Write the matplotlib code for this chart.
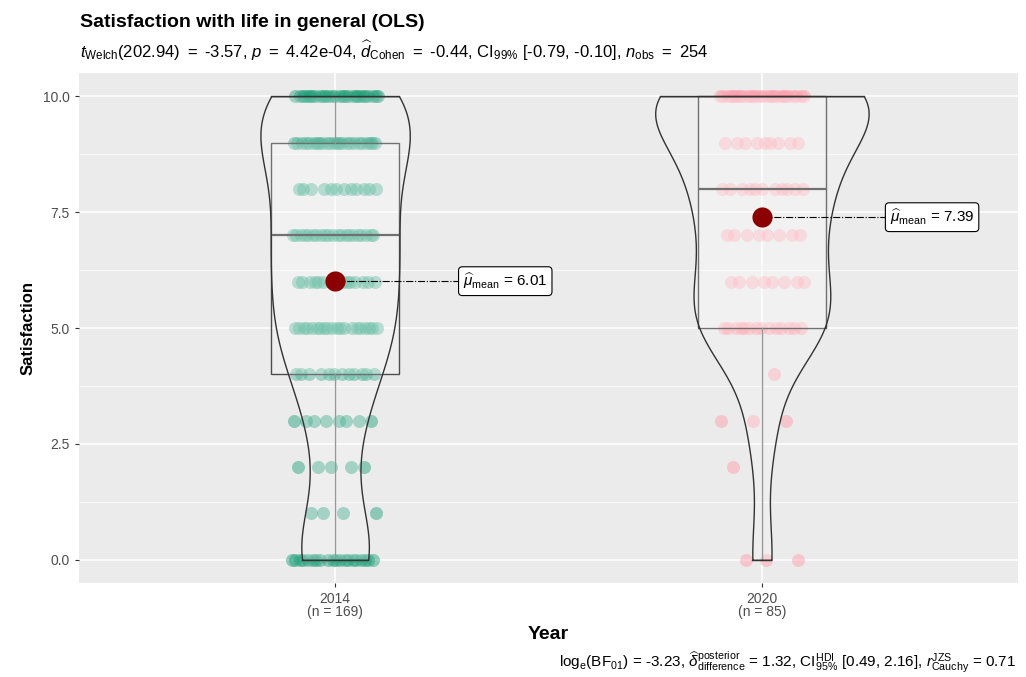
import numpy as np
import matplotlib
matplotlib.use("Agg")
import matplotlib.pyplot as plt

plt.rcParams['font.family'] = ['Liberation Sans', 'DejaVu Sans']
plt.rcParams['mathtext.fontset'] = 'custom'
plt.rcParams['mathtext.rm'] = 'Liberation Sans'
plt.rcParams['mathtext.it'] = 'Liberation Sans:italic'
plt.rcParams['mathtext.bf'] = 'Liberation Sans:bold'

# data: satisfaction scores (0-10) and how many respondents gave each
scores = np.arange(0, 11)
counts_2014 = [20, 4, 5, 8, 12, 20, 15, 21, 12, 24, 28]
counts_2020 = [3, 0, 1, 3, 1, 14, 8, 8, 11, 9, 27]
groups = ['2014', '2020']
group_n = [169, 85]
means = [6.01, 7.39]

green = '#1B9E77'
pink = '#FF9AA8'
colors = [green, pink]

vals = [np.repeat(scores, counts_2014).astype(float),
        np.repeat(scores, counts_2020).astype(float)]


def nrd0(x):
    sd = np.std(x, ddof=1)
    iqr = np.subtract(*np.percentile(x, [75, 25]))
    lo = min(sd, iqr / 1.34)
    return 0.9 * lo * len(x) ** -0.2


def density(x, grid):
    bw = nrd0(x)
    z = (grid[:, None] - x[None, :]) / bw
    return np.exp(-0.5 * z ** 2).sum(axis=1) / (len(x) * bw * np.sqrt(2 * np.pi))


fig = plt.figure(figsize=(10.26, 6.77), dpi=100)
ax = fig.add_axes([79 / 1026, 1 - 583 / 677, 939 / 1026, 510 / 677])
ax.set_facecolor('#EBEBEB')
for s in ax.spines.values():
    s.set_visible(False)

pos = [1, 2]

# jittered points (deterministic spread)
for i, v in enumerate(vals):
    k = np.arange(len(v))
    off = ((k * 0.6180339887 + 0.31 * i) % 1.0 - 0.5) * 0.2
    ax.scatter(pos[i] + off, v, s=88, color=colors[i], alpha=0.45,
               linewidths=0, zorder=2)

# boxplots
bp = ax.boxplot(vals, positions=pos, widths=0.3, whis=1.5, showfliers=False,
                showcaps=False, patch_artist=True, manage_ticks=False, zorder=3)
for b in bp['boxes']:
    b.set_facecolor((1, 1, 1, 0.2))
    b.set_edgecolor('#4D4D4D')
    b.set_linewidth(1.0)
for w in bp['whiskers']:
    w.set_color('#7F7F7F')
    w.set_linewidth(1.0)
for m in bp['medians']:
    m.set_color('#4D4D4D')
    m.set_linewidth(1.6)

# violins, scaled to equal area (max width 0.5)
dens_list = []
for v in vals:
    grid = np.linspace(v.min(), v.max(), 512)
    dens_list.append((grid, density(v, grid)))
gmax = max(d.max() for _, d in dens_list)
for i, (grid, d) in enumerate(dens_list):
    hw = 0.25 * d / gmax
    ax.fill_betweenx(grid, pos[i] - hw, pos[i] + hw, facecolor=(1, 1, 1, 0.2),
                     edgecolor='#333333', linewidth=1.0, zorder=4)
    ax.plot([pos[i] - hw[0], pos[i] + hw[0]], [grid[0], grid[0]], color='#333333', lw=1.0, zorder=4)
    ax.plot([pos[i] - hw[-1], pos[i] + hw[-1]], [grid[-1], grid[-1]], color='#333333', lw=1.0, zorder=4)

# means + labels
for i, m in enumerate(means):
    ax.scatter(pos[i], m, s=210, color='#8B0000', zorder=6, linewidths=0)
    ax.plot([pos[i], pos[i] + 0.29], [m, m], color='black', ls='-.', lw=0.8, zorder=5)
    ax.text(pos[i] + 0.30, m, r'$\widehat{\mu}_{\mathrm{mean}}$ = ' + f'{m:.2f}',
            fontsize=11, va='center', ha='left', zorder=7,
            bbox=dict(boxstyle='round,pad=0.3,rounding_size=0.25', fc='white', ec='black', lw=0.8))

ax.set_xlim(0.4, 2.6)
ax.set_ylim(-0.5, 10.5)
ax.set_yticks([0, 2.5, 5, 7.5, 10])
ax.set_yticklabels(['0.0', '2.5', '5.0', '7.5', '10.0'])
ax.set_yticks([1.25, 3.75, 6.25, 8.75], minor=True)
ax.set_xticks(pos)
ax.set_xticklabels([f'{g}\n(n = {n})' for g, n in zip(groups, group_n)], linespacing=0.95)
ax.tick_params(axis='both', which='major', colors='#333333', labelcolor='#4D4D4D',
               labelsize=10, length=3, width=0.8)
ax.tick_params(axis='y', which='minor', length=0)
ax.grid(True, which='major', color='white', lw=1.1, zorder=0)
ax.grid(True, which='minor', axis='y', color='white', lw=0.55, zorder=0)
ax.set_axisbelow(True)

fig.text(28 / 1026, 1 - 328 / 677, 'Satisfaction', rotation=90, fontsize=12,
         fontweight='bold', ha='center', va='center')
fig.text(548 / 1026, 1 - 639 / 677, 'Year', fontsize=14, fontweight='bold',
         ha='center', va='baseline')

fig.text(80 / 1026, 1 - 27 / 677, 'Satisfaction with life in general (OLS)',
         fontsize=14, fontweight='bold', ha='left', va='baseline')
eq = r' $\:$=$\:$ '
fig.text(80 / 1026, 1 - 58 / 677,
         r'$t_{\mathrm{Welch}}$(202.94)' + eq + '-3.57, $p$' + eq + '4.42e-04, '
         r'$\widehat{d}_{\mathrm{Cohen}}$' + eq + r'-0.44, CI$_{99\%}$ [-0.79, -0.10], '
         r'$n_{\mathrm{obs}}$' + eq + '254', fontsize=12, ha='left', va='baseline')
fig.text(1016 / 1026, 1 - 667 / 677,
         r'log$_{\mathrm{e}}$(BF$_{01}$) = -3.23, '
         r'$\widehat{\delta}_{\mathrm{difference}}^{\mathrm{posterior}}$ = 1.32, '
         r'CI$_{95\%}^{\mathrm{HDI}}$ [0.49, 2.16], '
         r'$r_{\mathrm{Cauchy}}^{\mathrm{JZS}}$ = 0.71', fontsize=11, ha='right', va='baseline')

fig.savefig('out.png', dpi=100)
